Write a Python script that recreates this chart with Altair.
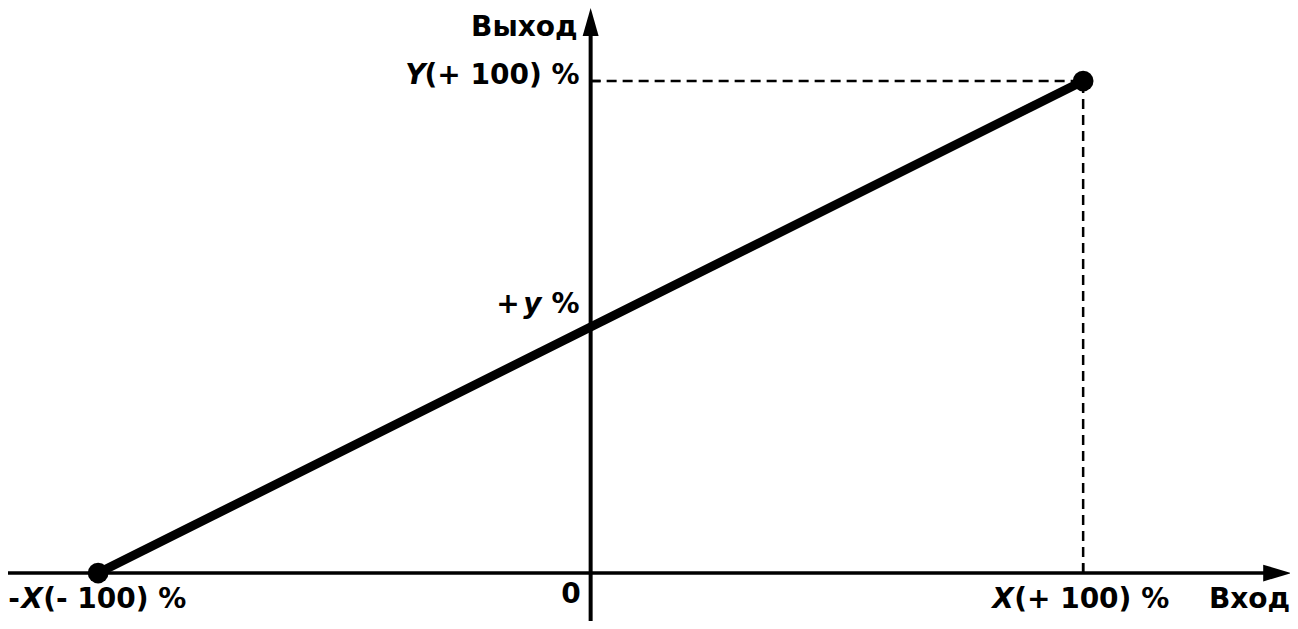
import altair as alt
import pandas as pd

# ---- data (schematic values) ----
line_x = [-100, 100]          # input %: -X(-100) .. X(+100)
line_y = [0, 100]             # output %: 0 .. Y(+100)
ref_x = [100]                 # X(+100) %
ref_y = [100]                 # Y(+100) %
mid_y = 50                    # +y % (intercept)

# ---- scale layout ----
XMIN, XMAX = -118.3, 142.0
YMIN, YMAX = -9.75, 114.84
xs = alt.Scale(domain=[XMIN, XMAX], nice=False, zero=False)
ys = alt.Scale(domain=[YMIN, YMAX], nice=False, zero=False)
ARROW_X = 139.4
ARROW_Y = 112.0
FONT = "DejaVu Sans"
FS = 28


def X(f):
    return alt.X(f, type="quantitative", scale=xs, axis=None)


def Y(f):
    return alt.Y(f, type="quantitative", scale=ys, axis=None)


# axes
x_axis = alt.Chart(pd.DataFrame({"x": [XMIN], "x2": [ARROW_X], "y": [0]})).mark_rule(
    color="black", strokeWidth=3.5).encode(x=X("x"), x2="x2", y=Y("y"))
y_axis = alt.Chart(pd.DataFrame({"x": [0], "y": [YMIN], "y2": [ARROW_Y]})).mark_rule(
    color="black", strokeWidth=4).encode(x=X("x"), y=Y("y"), y2="y2")
arrow_up = alt.Chart(pd.DataFrame({"x": [0], "y": [ARROW_Y]})).mark_point(
    shape="M0,-1L0.57,1L-0.57,1Z", filled=True, size=784, color="black", opacity=1
).encode(x=X("x"), y=Y("y"))
arrow_right = alt.Chart(pd.DataFrame({"x": [ARROW_X], "y": [0]})).mark_point(
    shape="M1,0L-1,0.6L-1,-0.6Z", filled=True, size=784, color="black", opacity=1
).encode(x=X("x"), y=Y("y"))

# dashed guides
dash_h = alt.Chart(pd.DataFrame({"x": [0], "x2": ref_x, "y": ref_y})).mark_rule(
    color="black", strokeWidth=2.5, strokeDash=[10, 6]).encode(x=X("x"), x2="x2", y=Y("y"))
dash_v = alt.Chart(pd.DataFrame({"x": ref_x, "y": [0], "y2": ref_y})).mark_rule(
    color="black", strokeWidth=2.5, strokeDash=[10, 6]).encode(x=X("x"), y=Y("y"), y2="y2")
tick_h = alt.Chart(pd.DataFrame({"x": [0], "x2": [2], "y": ref_y})).mark_rule(
    color="black", strokeWidth=2.5).encode(x=X("x"), x2="x2", y=Y("y"))
tick_v = alt.Chart(pd.DataFrame({"x": ref_x, "y": [0], "y2": [2]})).mark_rule(
    color="black", strokeWidth=2.5).encode(x=X("x"), y=Y("y"), y2="y2")

# main characteristic
df_line = pd.DataFrame({"x": line_x, "y": line_y})
main_line = alt.Chart(df_line).mark_line(color="black", strokeWidth=9).encode(
    x=X("x"), y=Y("y"))
dots = alt.Chart(df_line).mark_circle(color="black", size=430, opacity=1).encode(
    x=X("x"), y=Y("y"))


def label(text, x, y, dx, dy, align, italic=False):
    return alt.Chart(pd.DataFrame({"x": [x], "y": [y], "t": [text]})).mark_text(
        font=FONT, fontSize=FS, fontWeight="bold",
        fontStyle="italic" if italic else "normal",
        align=align, baseline="alphabetic", dx=dx, dy=dy, color="black"
    ).encode(x=X("x"), y=Y("y"), text="t:N")


labels = [
    label("Выход", 0, ref_y[0], -13, -45, "right"),
    label("(+ 100) %", 0, ref_y[0], -11, 3, "right"),
    label("Y", 0, ref_y[0], -165, 3, "right", True),
    label("%", 0, mid_y, -11, -14, "right"),
    label("y", 0, mid_y, -49, -14, "right", True),
    label("+", 0, mid_y, -71, -14, "right"),
    label("0", 0, 0, -10, 30, "right"),
    label("-", line_x[0], 0, -90, 35, "left"),
    label("X", line_x[0], 0, -77, 35, "left", True),
    label("(- 100) %", line_x[0], 0, -55, 35, "left"),
    label("X", ref_x[0], 0, -91, 35, "left", True),
    label("(+ 100) %", ref_x[0], 0, -69, 35, "left"),
    label("Вход", ref_x[0], 0, 207, 35, "right"),
]

chart = alt.layer(
    x_axis, y_axis, arrow_up, arrow_right,
    dash_h, dash_v, tick_h, tick_v,
    main_line, dots, *labels
).properties(
    width=1282, height=613, padding=0,
    autosize=alt.AutoSizeParams(type="none"),
    background="white",
).configure_view(stroke=None)

chart.save("out.html", embed_options={"renderer": "svg", "actions": False})
